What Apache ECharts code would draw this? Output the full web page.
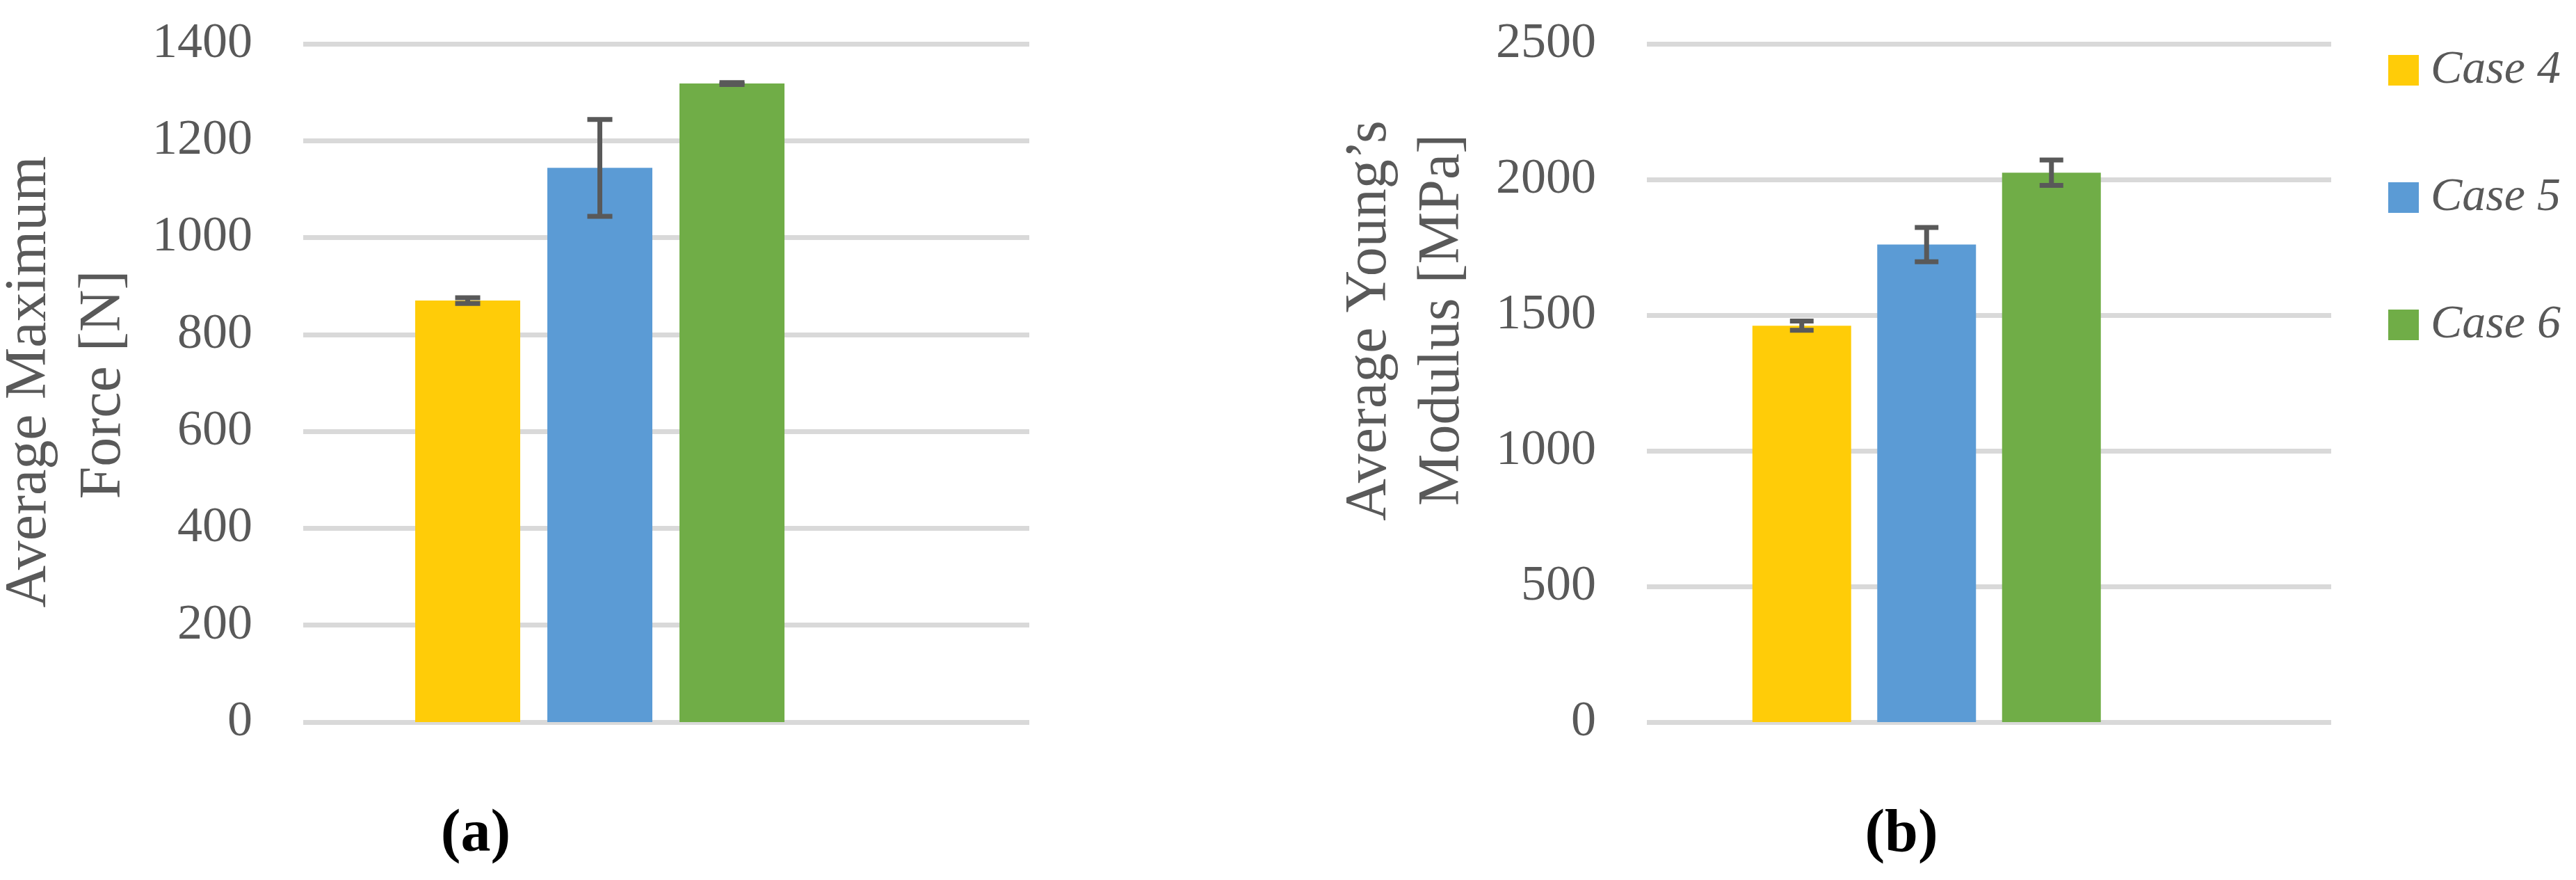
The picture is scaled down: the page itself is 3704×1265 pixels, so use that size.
<!DOCTYPE html>
<html>
<head>
<meta charset="utf-8">
<script src="https://cdn.jsdelivr.net/npm/echarts@6/dist/echarts.min.js"></script>
<style>
html,body{margin:0;padding:0;background:#fff;}
#chart{width:3704px;height:1265px;}
</style>
</head>
<body>
<div id="chart"></div>
<script>
// ---- data ----
const categories = ['Case 4', 'Case 5', 'Case 6'];
const forceValues = [870, 1144, 1318];
const forceErrors = [6, 100, 2];
const modulusValues = [1461, 1760, 2025];
const modulusErrors = [17, 63, 47];
const forceAxis = { min: 0, max: 1400, interval: 200 };
const modulusAxis = { min: 0, max: 2500, interval: 500 };
const colors = ['#FFCC08', '#5B9BD5', '#70AD47'];
const titleA = ['Average Maximum', 'Force [N]'];
const titleB = ['Average Young\u2019s', 'Modulus [MPa]'];
const panelLabels = ['(a)', '(b)'];

// ---- styling ----
const FONT = "'Liberation Serif', 'Times New Roman', serif";
const GREY = '#595959';
const TOP = 63, HEIGHT = 975;

const chart = echarts.init(document.getElementById('chart'), null, { renderer: 'canvas' });

function yAxisVisible(gridIndex, ax) {
  return {
    type: 'value', gridIndex, min: ax.min, max: ax.max, interval: ax.interval,
    axisLine: { show: false }, axisTick: { show: false },
    axisLabel: { color: GREY, fontFamily: FONT, fontSize: 72, margin: 73, formatter: v => String(v) },
    splitLine: { show: true, lineStyle: { color: '#D9D9D9', width: 7 } }
  };
}
function yAxisHidden(gridIndex, ax) {
  return { type: 'value', gridIndex, min: ax.min, max: ax.max, interval: ax.interval, show: false, splitLine: { show: false } };
}
function xAxisHidden(gridIndex, data) {
  return { type: 'category', gridIndex, data, show: false, axisTick: { show: false }, splitLine: { show: false } };
}

function barSeries(axisIndex, values, width) {
  return categories.map((name, i) => ({
    name, type: 'bar', xAxisIndex: axisIndex, yAxisIndex: axisIndex,
    barWidth: width, barGap: '-100%',
    itemStyle: { color: colors[i] },
    data: values.map((v, j) => (j === i ? v : '-')),
    z: 2
  }));
}

function errorSeries(axisIndex, values, errors, half) {
  return {
    name: 'err' + axisIndex, type: 'custom', xAxisIndex: axisIndex, yAxisIndex: axisIndex,
    z: 5, encode: { x: 0, y: 1 },
    data: values.map((v, i) => [i, v, errors[i]]),
    renderItem: function (params, api) {
      const x = api.value(0), m = api.value(1), e = api.value(2);
      const top = api.coord([x, m + e]);
      const bot = api.coord([x, m - e]);
      const st = { stroke: GREY, lineWidth: 7, lineCap: 'butt' };
      return {
        type: 'group',
        children: [
          { type: 'line', shape: { x1: top[0], y1: top[1], x2: bot[0], y2: bot[1] }, style: st },
          { type: 'line', shape: { x1: top[0] - half, y1: top[1], x2: top[0] + half, y2: top[1] }, style: st },
          { type: 'line', shape: { x1: bot[0] - half, y1: bot[1], x2: bot[0] + half, y2: bot[1] }, style: st }
        ]
      };
    }
  };
}

function rotText(text, x, y) {
  return {
    type: 'text', x, y, rotation: Math.PI / 2,
    style: { text, fill: GREY, fontFamily: FONT, fontSize: 84, align: 'center', verticalAlign: 'middle' }
  };
}
function panelText(text, x, y) {
  return {
    type: 'text', x, y,
    style: { text, fill: '#000', fontFamily: FONT, fontSize: 86, fontWeight: 'bold', align: 'center', verticalAlign: 'middle' }
  };
}

const option = {
  animation: false,
  backgroundColor: '#fff',
  grid: [
    { left: 436, top: TOP, width: 1044, height: HEIGHT },
    { left: 577.5, top: TOP, width: 570, height: HEIGHT },
    { left: 2368, top: TOP, width: 984, height: HEIGHT },
    { left: 2501, top: TOP, width: 538.5, height: HEIGHT }
  ],
  xAxis: [
    xAxisHidden(0, ['']),
    xAxisHidden(1, categories),
    xAxisHidden(2, ['']),
    xAxisHidden(3, categories)
  ],
  yAxis: [
    yAxisVisible(0, forceAxis),
    yAxisHidden(1, forceAxis),
    yAxisVisible(2, modulusAxis),
    yAxisHidden(3, modulusAxis)
  ],
  legend: {
    data: categories,
    orient: 'vertical',
    left: 3429, top: 62,
    itemWidth: 44, itemHeight: 44, itemGap: 115,
    icon: 'rect',
    selectedMode: false,
    formatter: name => '{t|' + name + '}',
    textStyle: {
      color: GREY, fontFamily: FONT, fontSize: 68, fontStyle: 'italic', lineHeight: 44,
      rich: { t: { color: GREY, fontFamily: FONT, fontSize: 68, fontStyle: 'italic', lineHeight: 44, padding: [0, 0, 0, 12] } }
    }
  },
  series: [
    ...barSeries(1, forceValues, 151),
    errorSeries(1, forceValues, forceErrors, 18),
    ...barSeries(3, modulusValues, 142),
    errorSeries(3, modulusValues, modulusErrors, 17)
  ],
  graphic: [
    rotText(titleA[0], 43, 549),
    rotText(titleA[1], 150, 553),
    rotText(titleB[0], 1970, 461),
    rotText(titleB[1], 2075, 460),
    panelText(panelLabels[0], 684, 1201),
    panelText(panelLabels[1], 2734, 1201)
  ]
};
chart.setOption(option);
</script>
</body>
</html>
